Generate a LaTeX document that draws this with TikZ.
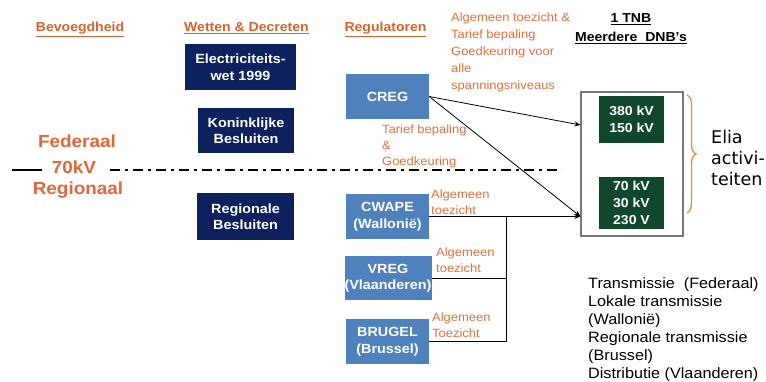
\documentclass[tikz,border=0pt]{standalone}
\usepackage{fontspec}
\setmainfont[FakeStretch=1.08]{Liberation Sans}
\newfontfamily\eliafont{DejaVu Sans}
\usetikzlibrary{arrows.meta,decorations.pathreplacing,calc}
\definecolor{navy}{RGB}{12,33,94}
\definecolor{regblue}{RGB}{79,129,189}
\definecolor{voltgreen}{RGB}{16,72,46}
\definecolor{headcol}{RGB}{214,98,45}
\definecolor{notecol}{RGB}{226,112,62}
\definecolor{sidecol}{RGB}{226,102,56}
\definecolor{boxgray}{RGB}{120,120,120}
\definecolor{bracecol}{RGB}{236,140,60}
\begin{document}
\begin{tikzpicture}[x=1pt,y=-1pt,
  law/.style={fill=navy,text=white,font=\bfseries\fontsize{13.3}{16.5}\selectfont,align=center,inner sep=0pt},
  reg/.style={fill=regblue,text=white,font=\bfseries\fontsize{13.3}{16.5}\selectfont,align=center,inner sep=0pt,minimum width=83pt,minimum height=45pt},
  volt/.style={fill=voltgreen,text=white,font=\bfseries\fontsize{13}{17}\selectfont,align=center,inner sep=0pt,minimum width=65pt},
  note/.style={text=notecol,font=\fontsize{12}{15.5}\selectfont,align=left,inner sep=0pt,anchor=north west},
  head/.style={text=headcol,font=\bfseries\fontsize{13}{15}\selectfont,inner sep=0pt,anchor=base},
  blackhead/.style={text=black,font=\bfseries\fontsize{13}{15}\selectfont,inner sep=0pt,anchor=base},
  side/.style={text=sidecol,font=\bfseries\fontsize{17.5}{20}\selectfont,inner sep=0pt,anchor=base},
  conn/.style={draw=black,line width=0.8pt},
  arr/.style={conn,-{Stealth[length=6pt,width=5pt]}},
  bracestyle/.style={draw=bracecol,line width=1.3pt,decorate,decoration={brace,amplitude=9pt}}
]
\useasboundingbox[fill=white] (0,0) rectangle (766,382);

% headers
\node[head] (hbev) at (80,32) {\underline{Bevoegdheid}};
\node[head] (hwet) at (246.5,32) {\underline{Wetten \& Decreten}};
\node[head] (hreg) at (385.5,32) {\underline{Regulatoren}};
\node[blackhead] (htnb) at (631,23) {\underline{1 TNB}};
\node[blackhead] (hdnb) at (631,42) {\underline{Meerdere\ \ DNB’s}};

% side labels and divider
\node[side] (fed) at (77,148) {Federaal};
\node[side] (kv) at (74,174) {70kV};
\node[side] (regio) at (78,195) {Regionaal};
\draw[line width=2.5pt] (12,170) -- (42,170);
\draw[line width=2.5pt,dash pattern=on 10pt off 5pt on 3pt off 5pt] (110,170) -- (562,170);

% laws
\node[law,minimum width=111pt,minimum height=46pt] (elec) at (240.5,67) {Electriciteits-\\wet 1999};
\node[law,minimum width=96pt,minimum height=45pt] (kon) at (246,130.5) {Koninklijke\\Besluiten};
\node[law,minimum width=97pt,minimum height=47pt] (regbes) at (245.5,216.5) {Regionale\\Besluiten};

% regulators
\node[reg] (creg) at (387.5,96.5) {CREG};
\node[reg] (cwape) at (387.5,216.5) {CWAPE\\(Wallonië)};
\node[reg,minimum width=84pt,minimum height=44pt] (vreg) at (388,278) {VREG\\(Vlaanderen)};
\node[reg] (brugel) at (387.5,341.5) {BRUGEL\\(Brussel)};

% Elia box
\node[draw=boxgray,line width=1.2pt,fill=white,minimum width=102pt,minimum height=144pt,inner sep=0pt] (elia) at (632,164) {};
\node[volt,minimum height=47pt] (hv) at (631.5,119.5) {380 kV\\150 kV};
\node[volt,minimum height=52pt] (lv) at (631.5,203) {70 kV\\30 kV\\230 V};

% connectors
\coordinate (in1) at ([yshift=39pt]elia.west);
\coordinate (in2) at (cwape.east -| elia.west);
\coordinate (busx) at (506,0);
\draw[arr] (creg.east) -- (in1);
\draw[arr] (creg.east) -- (in2);
\draw[arr] (cwape.east) -- (in2);
\draw[conn] (vreg.east) -- (vreg.east -| busx);
\draw[conn] (brugel.east) -- (brugel.east -| busx);
\draw[conn] (cwape.east -| busx) -- (brugel.east -| busx);

% brace and Elia text
\coordinate (btop) at (687,95);
\coordinate (bbot) at (687,213);
\draw[bracestyle] (btop) -- (bbot);
\node[anchor=north west,inner sep=0pt,align=left,font=\eliafont\fontsize{17.5}{21}\selectfont] (eliatxt) at (711,130) {Elia\\activi-\\teiten};

% annotations
\node[note,font=\fontsize{12}{17}\selectfont] (n1) at (451,13) {Algemeen toezicht \&\\Tarief bepaling\\Goedkeuring voor\\alle\\spanningsniveaus};
\node[note,font=\fontsize{12}{16}\selectfont] (n2) at (382,124.5) {Tarief bepaling\\\&\\Goedkeuring};
\node[note] (n3) at (431,190) {Algemeen\\toezicht};
\node[note] (n4) at (436,248) {Algemeen\\toezicht};
\node[note] (n5) at (432,313) {Algemeen\\Toezicht};

% bottom right
\node[anchor=north west,inner sep=0pt,align=left,font=\fontsize{15}{18}\selectfont] (legend) at (588,277.5) {Transmissie\ \ (Federaal)\\Lokale transmissie\\(Wallonië)\\Regionale transmissie\\(Brussel)\\Distributie (Vlaanderen)};
\end{tikzpicture}
\end{document}
